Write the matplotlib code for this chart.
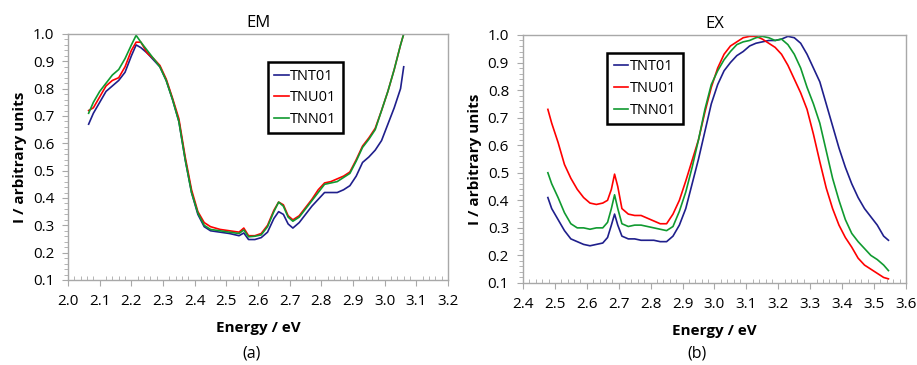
import matplotlib
matplotlib.use("Agg")
import matplotlib.pyplot as plt
from matplotlib.ticker import MultipleLocator, FormatStrFormatter

# ---------------- data ----------------
series_names = ["TNT01", "TNU01", "TNN01"]
series_colors = ["#1f1f8c", "#ff0000", "#109a30"]

em_energy = [2.065, 2.08, 2.10, 2.12, 2.14, 2.16, 2.18, 2.20, 2.215, 2.23, 2.25, 2.27,
             2.29, 2.31, 2.33, 2.35, 2.37, 2.39, 2.41, 2.43, 2.45, 2.48, 2.51, 2.54,
             2.555, 2.57, 2.59, 2.61, 2.63, 2.65, 2.665, 2.68, 2.695, 2.71, 2.73, 2.75,
             2.77, 2.79, 2.81, 2.83, 2.85, 2.87, 2.89, 2.91, 2.93, 2.95, 2.97, 2.99,
             3.01, 3.03, 3.05, 3.06]
em_tnt01 = [0.67, 0.71, 0.75, 0.79, 0.81, 0.83, 0.86, 0.92, 0.96, 0.95, 0.93, 0.905,
            0.88, 0.83, 0.76, 0.68, 0.54, 0.42, 0.34, 0.295, 0.28, 0.275, 0.27, 0.262,
            0.272, 0.248, 0.248, 0.255, 0.275, 0.325, 0.35, 0.34, 0.305, 0.29, 0.31, 0.34,
            0.37, 0.395, 0.42, 0.42, 0.42, 0.43, 0.445, 0.48, 0.53, 0.55, 0.575, 0.61,
            0.67, 0.73, 0.80, 0.88]
em_tnu01 = [0.72, 0.73, 0.77, 0.81, 0.83, 0.84, 0.88, 0.94, 0.97, 0.97, 0.93, 0.91,
            0.885, 0.835, 0.765, 0.69, 0.55, 0.43, 0.35, 0.31, 0.295, 0.285, 0.28, 0.275,
            0.29, 0.262, 0.262, 0.27, 0.30, 0.355, 0.385, 0.375, 0.335, 0.32, 0.335, 0.365,
            0.395, 0.43, 0.455, 0.46, 0.47, 0.48, 0.495, 0.54, 0.59, 0.62, 0.655, 0.72,
            0.79, 0.87, 0.96, 1.00]
em_tnn01 = [0.71, 0.75, 0.79, 0.82, 0.85, 0.87, 0.91, 0.96, 0.995, 0.97, 0.94, 0.91,
            0.88, 0.83, 0.76, 0.68, 0.54, 0.42, 0.345, 0.30, 0.285, 0.28, 0.275, 0.27,
            0.283, 0.258, 0.26, 0.265, 0.295, 0.35, 0.385, 0.37, 0.33, 0.315, 0.33, 0.36,
            0.39, 0.42, 0.45, 0.455, 0.46, 0.475, 0.49, 0.535, 0.585, 0.615, 0.65, 0.72,
            0.79, 0.87, 0.96, 1.00]

ex_energy = [2.478, 2.49, 2.51, 2.53, 2.55, 2.57, 2.59, 2.61, 2.63, 2.65, 2.665, 2.677,
             2.687, 2.697, 2.71, 2.73, 2.75, 2.77, 2.79, 2.81, 2.83, 2.85, 2.87, 2.89,
             2.91, 2.93, 2.95, 2.97, 2.99, 3.01, 3.03, 3.05, 3.07, 3.09, 3.11, 3.13,
             3.15, 3.17, 3.19, 3.21, 3.23, 3.25, 3.27, 3.29, 3.31, 3.33, 3.35, 3.37,
             3.39, 3.41, 3.43, 3.45, 3.47, 3.49, 3.51, 3.53, 3.545]
ex_tnt01 = [0.41, 0.37, 0.33, 0.29, 0.26, 0.25, 0.24, 0.235, 0.24, 0.245, 0.265, 0.31,
            0.35, 0.31, 0.27, 0.26, 0.26, 0.255, 0.255, 0.255, 0.25, 0.25, 0.27, 0.31,
            0.37, 0.46, 0.55, 0.65, 0.75, 0.82, 0.87, 0.90, 0.925, 0.94, 0.96, 0.97,
            0.975, 0.98, 0.98, 0.985, 0.995, 0.99, 0.97, 0.93, 0.88, 0.83, 0.75, 0.67,
            0.59, 0.52, 0.46, 0.41, 0.37, 0.34, 0.31, 0.27, 0.255]
ex_tnu01 = [0.73, 0.68, 0.61, 0.53, 0.48, 0.44, 0.41, 0.39, 0.385, 0.39, 0.40, 0.44,
            0.495, 0.45, 0.37, 0.35, 0.345, 0.345, 0.335, 0.325, 0.315, 0.315, 0.35, 0.40,
            0.47, 0.545, 0.62, 0.72, 0.81, 0.88, 0.93, 0.96, 0.975, 0.99, 0.995, 0.995,
            0.985, 0.97, 0.955, 0.93, 0.89, 0.84, 0.79, 0.73, 0.64, 0.54, 0.445, 0.37,
            0.31, 0.265, 0.23, 0.19, 0.165, 0.15, 0.135, 0.12, 0.115]
ex_tnn01 = [0.50, 0.46, 0.41, 0.355, 0.315, 0.30, 0.30, 0.295, 0.30, 0.30, 0.32, 0.37,
            0.42, 0.37, 0.315, 0.305, 0.31, 0.31, 0.305, 0.30, 0.295, 0.29, 0.305, 0.36,
            0.43, 0.52, 0.62, 0.73, 0.82, 0.87, 0.91, 0.94, 0.965, 0.975, 0.98, 0.99,
            0.995, 0.99, 0.98, 0.985, 0.965, 0.93, 0.88, 0.81, 0.75, 0.68, 0.58, 0.48,
            0.40, 0.33, 0.28, 0.25, 0.225, 0.20, 0.185, 0.165, 0.145]

em_xticks = [2.0, 2.1, 2.2, 2.3, 2.4, 2.5, 2.6, 2.7, 2.8, 2.9, 3.0, 3.1, 3.2]
ex_xticks = [2.4, 2.5, 2.6, 2.7, 2.8, 2.9, 3.0, 3.1, 3.2, 3.3, 3.4, 3.5, 3.6]
yticks = [0.1, 0.2, 0.3, 0.4, 0.5, 0.6, 0.7, 0.8, 0.9, 1.0]

# ---------------- figure ----------------
plt.rcParams['font.family'] = ['Open Sans', 'DejaVu Sans']
fig = plt.figure(figsize=(9.17, 3.65), dpi=100)

ax1 = fig.add_axes([0.0742, 0.2329, 0.4144, 0.6740])
ax2 = fig.add_axes([0.5703, 0.2247, 0.4177, 0.6795])

spine_col = "#a8a8a8"

def style(ax, xticks, title, tag, tag_x, legend_pos):
    ax.set_xlim(xticks[0], xticks[-1])
    ax.set_ylim(0.1, 1.0)
    ax.set_xticks(xticks)
    ax.set_yticks(yticks)
    ax.xaxis.set_major_formatter(FormatStrFormatter('%.1f'))
    ax.yaxis.set_major_formatter(FormatStrFormatter('%.1f'))
    ax.xaxis.set_minor_locator(MultipleLocator(0.02))
    ax.yaxis.set_minor_locator(MultipleLocator(0.02))
    for s in ax.spines.values():
        s.set_color(spine_col)
        s.set_linewidth(1.0)
    ax.tick_params(axis='both', which='major', direction='out', length=4,
                   color=spine_col, labelsize=11, pad=6)
    ax.tick_params(axis='x', which='minor', direction='in', length=3, color=spine_col)
    ax.tick_params(axis='y', which='minor', direction='out', length=3, color=spine_col)
    ax.set_title(title, fontsize=12, pad=5)
    ax.set_xlabel("Energy / eV", fontsize=11, fontweight='bold', labelpad=9)
    ax.set_ylabel("I / arbitrary units", fontsize=11, fontweight='bold', labelpad=4)
    fig.text(tag_x, 1 - 354 / 365, tag, ha='center', va='center', fontsize=11.5)
    leg = ax.legend(loc='upper left', bbox_to_anchor=legend_pos,
                    bbox_transform=fig.transFigure, fontsize=10.5,
                    handlelength=1.0, handletextpad=0.1, labelspacing=0.45,
                    borderpad=0.45, fancybox=False, framealpha=1, borderaxespad=0)
    leg.get_frame().set_edgecolor('black')
    leg.get_frame().set_linewidth(1.8)

for vals, name, col in zip([em_tnt01, em_tnu01, em_tnn01], series_names, series_colors):
    ax1.plot(em_energy, vals, color=col, lw=1.2, label=name)
for vals, name, col in zip([ex_tnt01, ex_tnu01, ex_tnn01], series_names, series_colors):
    ax2.plot(ex_energy, vals, color=col, lw=1.2, label=name)

style(ax1, em_xticks, "EM", "(a)", 252 / 917, (0.292, 0.830))
style(ax2, ex_xticks, "EX", "(b)", 697 / 917, (0.662, 0.855))

fig.savefig("out.png", dpi=100)
